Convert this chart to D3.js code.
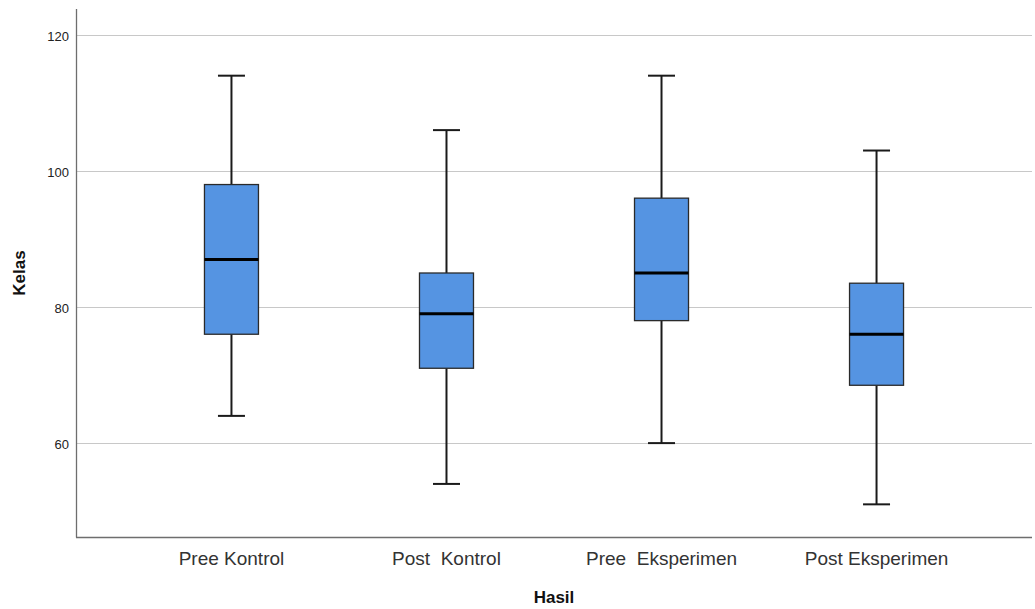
<!DOCTYPE html>
<html>
<head>
<meta charset="utf-8">
<script src="https://cdn.jsdelivr.net/npm/d3@7"></script>
<style>
  body { margin: 0; background: #fff; }
  svg { display: block; font-family: "Liberation Sans", Arial, sans-serif; }
</style>
</head>
<body>
<div class="viz"></div>
<script>
// groups and five-number summaries
var groups = ["Pree Kontrol", "Post  Kontrol", "Pree  Eksperimen", "Post Eksperimen"];
var mins    = [64, 54, 60, 51];
var q1s     = [76, 71, 78, 68.5];
var medians = [87, 79, 85, 76];
var q3s     = [98, 85, 96, 83.5];
var maxs    = [114, 106, 114, 103];
var y_ticks = [60, 80, 100, 120];

var width = 1035, height = 609;
var margin = { top: 9, right: 3, bottom: 72, left: 76 };

var data = groups.map((g, i) => ({
    name: g, min: mins[i], q1: q1s[i], med: medians[i], q3: q3s[i], max: maxs[i]
}));

var graph = d3.select('.viz')
    .append('svg')
    .attr('width', width)
    .attr('height', height);

var scale_x = d3.scaleBand()
    .domain(groups)
    .range([margin.left, width - margin.right])
    .paddingInner(0)
    .paddingOuter(0.223);

var scale_y = d3.scaleLinear()
    .domain([46.2, 123.8])
    .range([height - margin.bottom, margin.top]);

// gridlines
graph.append('g')
    .selectAll('line')
    .data(y_ticks)
    .enter()
    .append('line')
    .attr('x1', margin.left)
    .attr('x2', width - margin.right)
    .attr('y1', d => Math.round(scale_y(d)) + 0.5)
    .attr('y2', d => Math.round(scale_y(d)) + 0.5)
    .attr('stroke', '#c8c8c8')
    .attr('stroke-width', 1);

// y axis
var y_axis = d3.axisLeft(scale_y).tickValues(y_ticks).tickSize(0).tickPadding(7);
var gy = graph.append('g')
    .attr('transform', `translate(${margin.left}, 0)`)
    .call(y_axis);
gy.select('.domain').remove();
gy.selectAll('text')
    .attr('font-size', '13px')
    .attr('dy', '0.4em')
    .attr('fill', '#222')
    .attr('font-family', '"Liberation Sans", Arial, sans-serif');

// x axis
var x_axis = d3.axisBottom(scale_x).tickSize(0).tickPadding(15);
var gx = graph.append('g')
    .attr('transform', `translate(0, ${height - margin.bottom})`)
    .call(x_axis);
gx.select('.domain').remove();
gx.selectAll('text')
    .attr('font-size', '19px')
    .attr('fill', '#333')
    .attr('font-family', '"Liberation Sans", Arial, sans-serif')
    .style('white-space', 'pre');

// axis lines
graph.append('line')
    .attr('x1', margin.left + 0.5).attr('x2', margin.left + 0.5)
    .attr('y1', margin.top).attr('y2', height - margin.bottom + 0.5)
    .attr('stroke', '#6e6e6e').attr('stroke-width', 1.3);
graph.append('line')
    .attr('x1', margin.left).attr('x2', width - margin.right)
    .attr('y1', height - margin.bottom + 0.5).attr('y2', height - margin.bottom + 0.5)
    .attr('stroke', '#6e6e6e').attr('stroke-width', 1.3);

// boxes
var box_w = 54, cap_w = 27;
var box = graph.selectAll('g.box')
    .data(data)
    .enter()
    .append('g')
    .attr('class', 'box')
    .attr('transform', d => `translate(${scale_x(d.name) + scale_x.bandwidth() / 2}, 0)`);

box.append('line')
    .attr('x1', 0).attr('x2', 0)
    .attr('y1', d => scale_y(d.max)).attr('y2', d => scale_y(d.q3))
    .attr('stroke', '#1a1a1a').attr('stroke-width', 2);
box.append('line')
    .attr('x1', 0).attr('x2', 0)
    .attr('y1', d => scale_y(d.q1)).attr('y2', d => scale_y(d.min))
    .attr('stroke', '#1a1a1a').attr('stroke-width', 2);
box.append('line')
    .attr('x1', -cap_w / 2).attr('x2', cap_w / 2)
    .attr('y1', d => scale_y(d.max)).attr('y2', d => scale_y(d.max))
    .attr('stroke', '#1a1a1a').attr('stroke-width', 2);
box.append('line')
    .attr('x1', -cap_w / 2).attr('x2', cap_w / 2)
    .attr('y1', d => scale_y(d.min)).attr('y2', d => scale_y(d.min))
    .attr('stroke', '#1a1a1a').attr('stroke-width', 2);

box.append('rect')
    .attr('x', -box_w / 2)
    .attr('width', box_w)
    .attr('y', d => scale_y(d.q3))
    .attr('height', d => scale_y(d.q1) - scale_y(d.q3))
    .attr('fill', '#5594e2')
    .attr('stroke', '#2a2a2a')
    .attr('stroke-width', 1.3);

box.append('line')
    .attr('x1', -box_w / 2).attr('x2', box_w / 2)
    .attr('y1', d => scale_y(d.med)).attr('y2', d => scale_y(d.med))
    .attr('stroke', '#000').attr('stroke-width', 3);

// axis titles
graph.append('text')
    .attr('x', (margin.left + width - margin.right) / 2)
    .attr('y', 603)
    .attr('text-anchor', 'middle')
    .attr('font-size', '17px')
    .attr('font-weight', 'bold')
    .attr('fill', '#111')
    .text('Hasil');

graph.append('text')
    .attr('transform', `translate(25, ${(margin.top + height - margin.bottom) / 2}) rotate(-90)`)
    .attr('text-anchor', 'middle')
    .attr('font-size', '17px')
    .attr('font-weight', 'bold')
    .attr('fill', '#111')
    .text('Kelas');
</script>
</body>
</html>
